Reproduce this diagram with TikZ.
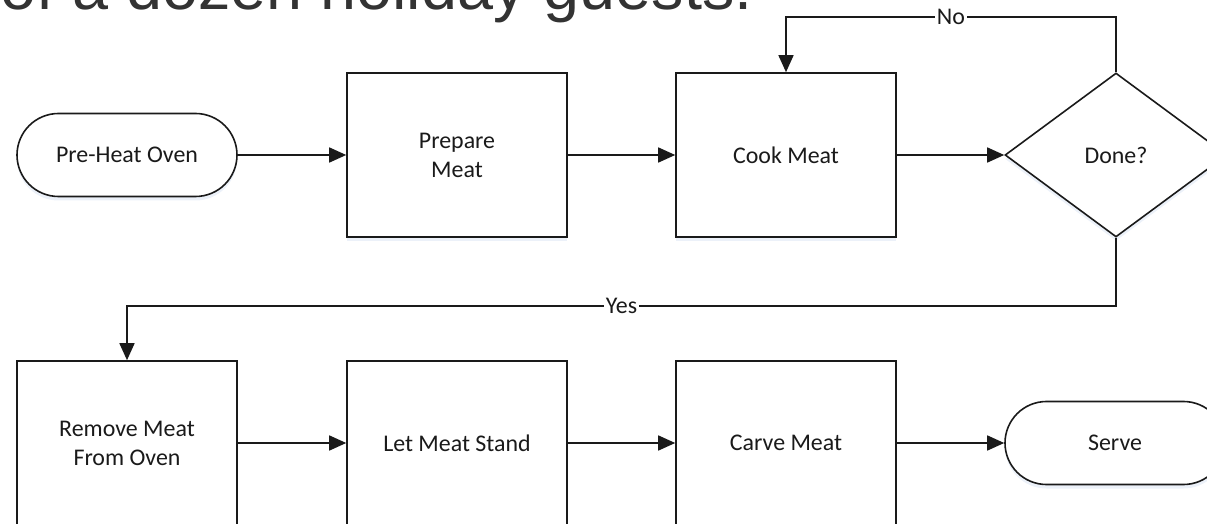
\documentclass[tikz,border=0pt]{standalone}
\usepackage{fontspec}
\setmainfont{Carlito}
\newfontfamily\titlefont{Liberation Sans}
\usetikzlibrary{arrows.meta,shapes.geometric,shapes.misc,shadows}
\definecolor{inkc}{HTML}{1A1A1A}
\definecolor{titlec}{HTML}{333333}
\definecolor{shadowc}{HTML}{C8D8EE}
\begin{document}
\begin{tikzpicture}[x=1bp,y=-1bp,
  base/.style={draw=inkc, line width=1.6bp, fill=white, text=inkc,
    font=\fontsize{24}{29}\selectfont, align=center, inner sep=0pt,
    drop shadow={shadow xshift=0bp, shadow yshift=-4bp, fill=shadowc, opacity=0.35}},
  procbox/.style={base, rectangle, minimum width=220bp, minimum height=164bp},
  termbox/.style={base, rounded rectangle, minimum width=220bp, minimum height=83bp},
  decbox/.style={base, diamond, minimum width=222bp, minimum height=164bp},
  arr/.style={draw=inkc, line width=1.6bp, -{Triangle[length=17bp,width=15bp]}},
  lab/.style={fill=white, inner sep=1.5bp, text=inkc, font=\fontsize{24}{29}\selectfont}]
\useasboundingbox (0,0) rectangle (1207,524);
\clip (0,0) rectangle (1207,524);
\node[anchor=base west, inner sep=0pt, text=titlec,
  font=\titlefont\fontsize{65}{78}\selectfont] (title) at (0,10) {of a dozen holiday guests.};
% top row
\node[termbox] (pre) at (127,155) {Pre-Heat Oven};
\node[procbox] (prep) at (457,155) {Prepare\\Meat};
\node[procbox] (cook) at (786,155) {Cook Meat};
\node[decbox] (done) at (1116,155) {Done?};
% bottom row
\node[procbox] (rem) at (127,443) {Remove Meat\\From Oven};
\node[procbox] (stand) at (457,443) {Let Meat Stand};
\node[procbox] (carve) at (786,443) {Carve Meat};
\node[termbox] (serve) at (1115,443) {Serve};
% connectors
\draw[arr] (pre) -- (prep);
\draw[arr] (prep) -- (cook);
\draw[arr] (cook) -- (done);
\coordinate (noc) at (1116,17);
\draw[arr] (done.north) -- (noc) -- node[lab]{No} (noc -| cook.north) -- (cook.north);
\coordinate (yesc) at (1116,306);
\draw[arr] (done.south) -- (yesc) -- node[lab]{Yes} (yesc -| rem.north) -- (rem.north);
\draw[arr] (rem) -- (stand);
\draw[arr] (stand) -- (carve);
\draw[arr] (carve) -- (serve);
\end{tikzpicture}
\end{document}
